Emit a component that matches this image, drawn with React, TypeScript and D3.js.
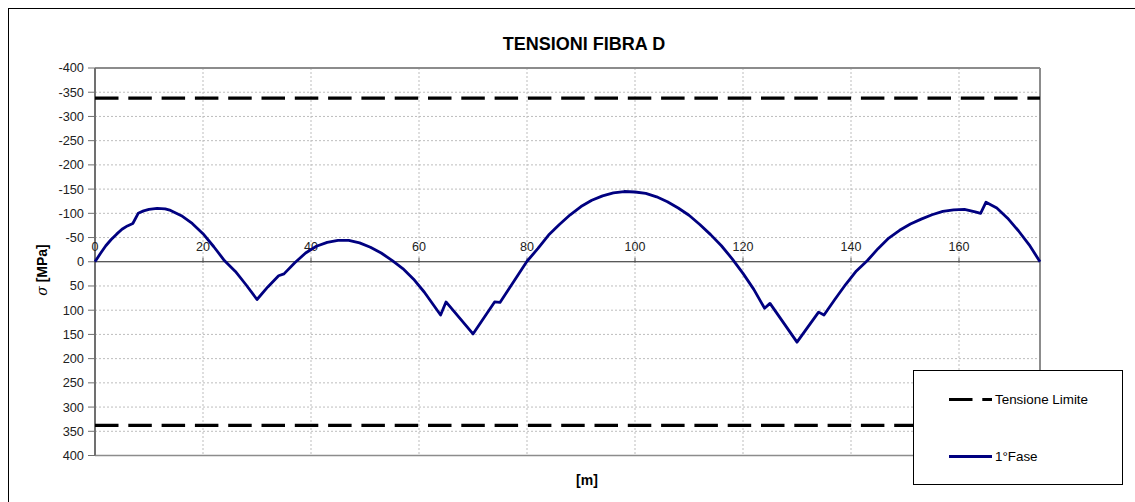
import React from "react";
import * as d3 from "d3";

const xPos: number[] = [0, 1, 2, 3, 4, 5, 6, 7, 8, 9, 10, 11.5, 13, 14, 16, 18, 20, 22, 24, 26, 28, 30, 32, 34, 35, 37, 39, 41, 43, 45, 47, 49, 51, 53, 55, 57, 59, 61, 64, 65, 70, 74, 75, 77, 80, 82, 84, 86, 88, 90, 92, 94, 96, 98, 100, 102, 104, 106, 108, 110, 112, 114, 116, 118, 120, 122, 124, 125, 130, 134, 135, 137, 139, 141, 143, 145, 147, 149, 151, 153, 155, 157, 159, 161, 163, 164, 165, 167, 169, 171, 173, 175];
const fase1: number[] = [0, -17, -33, -46, -57, -67, -74, -79, -100, -105, -108, -110, -109, -106, -95, -79, -58, -31, -2, 20, 48, 78, 52, 29, 25, 2, -18, -32, -40, -44, -44, -39, -30, -18, -3, 14, 36, 63, 110, 83, 149, 83, 84, 50, -1, -27, -55, -77, -97, -114, -127, -136, -142, -145, -144, -141, -134, -124, -111, -96, -77, -56, -33, -6, 24, 57, 96, 86, 166, 104, 110, 78, 47, 19, -2, -27, -49, -65, -78, -88, -97, -104, -107, -108, -103, -100, -123, -111, -90, -64, -35, 0];
const limitValues: number[] = [-338, 338];
const xTicks: number[] = [0, 20, 40, 60, 80, 100, 120, 140, 160];
const yTicks: number[] = [-400, -350, -300, -250, -200, -150, -100, -50, 0, 50, 100, 150, 200, 250, 300, 350, 400];
const xDomain: [number, number] = [0, 175];
const yDomain: [number, number] = [-400, 400];

const FONT = "'Liberation Sans', Arial, sans-serif";

export default function App() {
  const left = 95, right = 1040, top = 68, bottom = 455.5;
  const x = d3.scaleLinear().domain(xDomain).range([left, right]);
  const y = d3.scaleLinear().domain(yDomain).range([top, bottom]);
  const line = d3.line<number>().x((_, i) => x(xPos[i])).y((d) => y(d));
  const y0 = y(0);

  return (
    <svg width={1135} height={502} style={{ position: "absolute", left: 0, top: 0, background: "#fff" }} fontFamily={FONT}>
      <rect x={0} y={0} width={1135} height={502} fill="#fff" />
      <rect x={8.5} y={8.5} width={1140} height={510} fill="none" stroke="#000" strokeWidth={1} />
      <text x={584} y={50} textAnchor="middle" fontSize={18} fontWeight="bold" fill="#000">TENSIONI FIBRA D</text>

      {/* grid */}
      {xTicks.filter((t) => t > 0).map((t) => (
        <line key={"gx" + t} x1={x(t)} x2={x(t)} y1={top} y2={bottom} stroke="#bdbdbd" strokeWidth={1} strokeDasharray="2,2" />
      ))}
      {yTicks.filter((t) => t !== 0 && t !== -400 && t !== 400).map((t) => (
        <line key={"gy" + t} x1={left} x2={right} y1={y(t)} y2={y(t)} stroke="#bdbdbd" strokeWidth={1} strokeDasharray="2,2" />
      ))}

      {/* frame */}
      <line x1={left} x2={right} y1={top} y2={top} stroke="#8c8c8c" strokeWidth={2} />
      <line x1={left} x2={right} y1={bottom} y2={bottom} stroke="#8c8c8c" strokeWidth={1.5} />
      <line x1={right} x2={right} y1={top} y2={bottom} stroke="#8c8c8c" strokeWidth={2} />
      <line x1={left} x2={left} y1={top} y2={bottom} stroke="#707070" strokeWidth={2} />
      <line x1={left} x2={right} y1={y0} y2={y0} stroke="#222" strokeWidth={1.2} />

      {/* y ticks */}
      {yTicks.map((t) => (
        <g key={"yt" + t}>
          <line x1={left - 7} x2={left} y1={y(t)} y2={y(t)} stroke="#707070" strokeWidth={1} />
          <text x={84} y={y(t)} dy="0.35em" textAnchor="end" fontSize={12.8} fill="#222">{t}</text>
        </g>
      ))}
      {/* x ticks */}
      {xTicks.map((t) => (
        <g key={"xt" + t}>
          <line x1={x(t)} x2={x(t)} y1={y0 - 4} y2={y0 + 1} stroke="#555" strokeWidth={1} />
          <text x={x(t)} y={251} textAnchor="middle" fontSize={12.5} fill="#222">{t}</text>
        </g>
      ))}

      {/* limit lines */}
      {limitValues.map((v) => (
        <line key={"lim" + v} x1={left} x2={right} y1={y(v)} y2={y(v)} stroke="#000" strokeWidth={3.2} strokeDasharray="23.5,9.8" />
      ))}

      {/* series */}
      <path d={line(fase1) || ""} fill="none" stroke="#000080" strokeWidth={2.8} strokeLinejoin="round" />

      {/* axis titles */}
      <text x={587} y={485} textAnchor="middle" fontSize={14} fontWeight="bold" fill="#000">[m]</text>
      <text transform="translate(47,270) rotate(-90)" textAnchor="middle" fontSize={14} fontWeight="bold" fill="#000">
        <tspan fontStyle="italic" fontFamily="'DejaVu Serif', serif" fontWeight="normal">σ</tspan> [MPa]
      </text>

      {/* legend */}
      <rect x={913.5} y={370.5} width={209} height={114} fill="#fff" stroke="#000" strokeWidth={1} />
      <line x1={949} x2={992} y1={399.5} y2={399.5} stroke="#000" strokeWidth={3.2} strokeDasharray="23.5,9.8" />
      <text x={995} y={399.5} dy="0.35em" fontSize={13.4} fill="#000">Tensione Limite</text>
      <line x1={949} x2={992} y1={456.5} y2={456.5} stroke="#000080" strokeWidth={2.8} />
      <text x={995} y={456.5} dy="0.35em" fontSize={13.4} fill="#000">1°Fase</text>
    </svg>
  );
}
